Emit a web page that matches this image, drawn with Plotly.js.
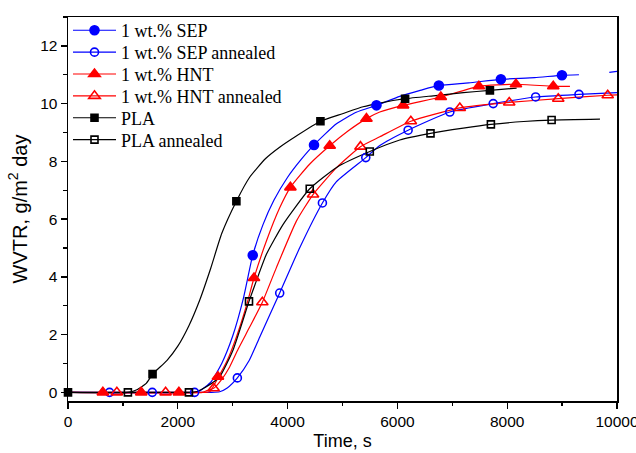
<!DOCTYPE html>
<html>
<head>
<meta charset="utf-8">
<script src="https://cdn.plot.ly/plotly-3.0.1.min.js"></script>
<style>html,body{margin:0;padding:0;background:#fff;}#chart{width:636px;height:453px;}</style>
</head>
<body>
<div id="chart"></div>
<script>
// ---- Data (time in s, WVTR in g/m2 day) ----
const seriesNames = ["1 wt.% SEP", "1 wt.% SEP annealed", "1 wt.% HNT", "1 wt.% HNT annealed", "PLA", "PLA annealed"];

// curve samples
const sepX = [0, 2300, 2397, 2600, 2800, 3000, 3200, 3365, 3550, 3750, 4000, 4240, 4481, 4890, 5250, 5619, 6043, 6400, 6755, 7300, 7885, 8500, 8997, 9307, null, 9860, 10000];
const sepY = [0, 0, 0.05, 0.35, 1.0, 1.95, 3.3, 4.75, 5.8, 6.65, 7.45, 8.05, 8.57, 9.3, 9.7, 9.94, 10.25, 10.45, 10.63, 10.72, 10.84, 10.9, 10.98, 11.0, null, 11.08, 11.12];

const sepAnX = [0, 2600, 2762, 2900, 3085, 3300, 3491, 3856, 4221, 4634, 4890, 5424, 5679, 6195, 6955, 7745, 8518, 9307, 10000];
const sepAnY = [0, 0, 0.02, 0.15, 0.5, 1.1, 1.91, 3.44, 5.01, 6.56, 7.3, 8.13, 8.55, 9.08, 9.71, 10.0, 10.23, 10.32, 10.38];

const hntX = [0, 2400, 2580, 2731, 2900, 3066, 3250, 3388, 3614, 3856, 4051, 4400, 4767, 5100, 5436, 5679, 6104, 6791, 7484, 8159, 8839, 9143];
const hntY = [0, 0, 0.02, 0.5, 1.1, 1.91, 3.0, 3.96, 5.24, 6.39, 7.1, 7.9, 8.54, 9.05, 9.48, 9.71, 9.94, 10.23, 10.6, 10.67, 10.6, 10.6];

const hntAnX = [0, 2450, 2519, 2653, 2800, 2944, 3100, 3309, 3540, 3796, 4160, 4463, 4900, 5327, 5679, 6245, 7137, 8037, 8930, 9831, 10000];
const hntAnY = [0, 0, 0.05, 0.14, 0.45, 0.88, 1.5, 2.26, 3.12, 4.32, 5.93, 6.85, 7.8, 8.51, 8.85, 9.39, 9.85, 10.04, 10.17, 10.29, 10.3];

const plaX = [0, 1090, 1243, 1425, 1540, 1800, 2000, 2200, 2400, 2600, 2800, 3067, 3309, 3600, 3861, 4160, 4598, 5000, 5375, 5679, 6140, 6700, 7200, 7685, 8172];
const plaY = [0, 0, 0.08, 0.31, 0.63, 1.1, 1.6, 2.3, 3.2, 4.3, 5.5, 6.62, 7.45, 8.1, 8.5, 8.88, 9.39, 9.65, 9.89, 10.02, 10.17, 10.28, 10.38, 10.46, 10.54];

const plaAnX = [0, 1091, 2203, 2350, 2520, 2762, 3005, 3297, 3431, 3614, 3916, 4403, 4900, 5497, 6043, 6603, 7200, 7703, 8300, 8809, 9690];
const plaAnY = [0, 0, 0, 0.03, 0.19, 0.54, 1.46, 3.15, 3.86, 4.78, 5.81, 7.05, 7.8, 8.34, 8.74, 8.97, 9.15, 9.28, 9.38, 9.43, 9.46];

// marker samples
const sepMX = [3365, 4481, 5619, 6755, 7885, 8997];
const sepMY = [4.75, 8.57, 9.94, 10.63, 10.84, 10.98];
const sepAnMX = [757, 1535, 2306, 3085, 3856, 4634, 5424, 6195, 6955, 7745, 8518, 9307];
const sepAnMY = [0, 0, 0, 0.5, 3.44, 6.56, 8.13, 9.08, 9.71, 10.0, 10.23, 10.32];
const hntMX = [635, 1334, 2020, 2731, 3388, 4051, 4767, 5436, 6104, 6791, 7484, 8159, 8839];
const hntMY = [0, 0, 0, 0.54, 3.96, 7.1, 8.54, 9.48, 9.94, 10.23, 10.6, 10.67, 10.6];
const hntAnMX = [890, 1778, 2653, 3540, 4463, 5327, 6245, 7137, 8037, 8930, 9831];
const hntAnMY = [0, 0, 0.14, 3.12, 6.85, 8.51, 9.39, 9.85, 10.04, 10.17, 10.29];
const plaMX = [0, 1540, 3067, 4598, 6140, 7685];
const plaMY = [0, 0.63, 6.62, 9.39, 10.17, 10.46];
const plaAnMX = [1091, 2203, 3297, 4403, 5497, 6603, 7703, 8809];
const plaAnMY = [0, 0, 3.15, 7.05, 8.34, 8.97, 9.28, 9.43];

const xTicks = [0, 2000, 4000, 6000, 8000, 10000];
const yTicks = [0, 2, 4, 6, 8, 10, 12];

// ---- styling ----
const styles = [
  {color: "#0000ff", symbol: "circle", size: 9, lx: sepX, ly: sepY, mx: sepMX, my: sepMY},
  {color: "#0000ff", symbol: "circle-open", size: 8, lx: sepAnX, ly: sepAnY, mx: sepAnMX, my: sepAnMY},
  {color: "#ff0000", symbol: "triangle-up", size: 10, lx: hntX, ly: hntY, mx: hntMX, my: hntMY},
  {color: "#ff0000", symbol: "triangle-up-open", size: 10, lx: hntAnX, ly: hntAnY, mx: hntAnMX, my: hntAnMY},
  {color: "#000000", symbol: "square", size: 7, lx: plaX, ly: plaY, mx: plaMX, my: plaMY},
  {color: "#000000", symbol: "square-open", size: 7, lx: plaAnX, ly: plaAnY, mx: plaAnMX, my: plaAnMY}
];

const traces = [];
styles.forEach((s) => {
  traces.push({
    x: s.lx, y: s.ly, mode: "lines", type: "scatter", showlegend: false,
    line: {color: s.color, width: 1.2, shape: "spline", smoothing: 0.5},
    connectgaps: false, hoverinfo: "skip", cliponaxis: true
  });
});
styles.forEach((s) => {
  traces.push({
    x: s.mx, y: s.my, mode: "markers", type: "scatter", showlegend: false,
    marker: {color: s.color, symbol: s.symbol, size: s.size, line: {color: s.color, width: 1.6}},
    cliponaxis: false
  });
});
const legendIds = ["legend", "legend2", "legend3", "legend4", "legend5", "legend6"];
styles.forEach((s, i) => {
  traces.push({
    x: [null], y: [null], mode: "lines+markers", type: "scatter", name: seriesNames[i],
    legend: legendIds[i],
    line: {color: s.color, width: 1.2},
    marker: {color: s.color, symbol: s.symbol, size: s.size, line: {color: s.color, width: 1.6}}
  });
});

const axisCommon = {
  showline: true, linecolor: "#000", linewidth: 1.5, mirror: true,
  ticks: "outside", ticklen: 6, tickwidth: 1.3, tickcolor: "#000",
  showgrid: false, zeroline: false, ticklabeloverflow: "allow",
  tickfont: {family: "Liberation Sans, Arial, sans-serif", size: 15.5, color: "#000"}
};

const layout = {
  width: 636, height: 453,
  margin: {l: 68, r: 19, t: 13, b: 52},
  paper_bgcolor: "#fff", plot_bgcolor: "#fff",
  showlegend: true,
  xaxis: Object.assign({}, axisCommon, {
    range: [0, 10000], tickvals: xTicks, ticktext: xTicks.map(String),
    minor: {dtick: 1000, ticks: "outside", ticklen: 3.5, tickwidth: 1.2, tickcolor: "#000"},
    title: {text: "Time, s", font: {family: "Liberation Sans, Arial, sans-serif", size: 18, color: "#000"}, standoff: 5}
  }),
  yaxis: Object.assign({}, axisCommon, {
    range: [-0.3, 13], tickvals: yTicks, ticktext: yTicks.map(String),
    minor: {dtick: 1, ticks: "outside", ticklen: 3.5, tickwidth: 1.2, tickcolor: "#000"},
    title: {text: "WVTR, g/m<sup>2</sup> day", font: {family: "Liberation Sans, Arial, sans-serif", size: 20, color: "#000"}, standoff: 7}
  })
};

// one legend box per entry so the rows keep the reference's tight spacing
const plotTop = 13, plotH = 388;
const rowTop = 26.7, rowGap = 22.1;
legendIds.forEach((id, i) => {
  const cy = rowTop + rowGap * i;
  layout[id] = {
    x: 0.0, y: 1 - (cy - plotTop) / plotH, xanchor: "left", yanchor: "middle",
    bgcolor: "rgba(0,0,0,0)", borderwidth: 0, itemwidth: 43,
    font: {family: "Liberation Serif, Times New Roman, serif", size: 18, color: "#000"}
  };
});

Plotly.newPlot("chart", traces, layout, {staticPlot: true, displayModeBar: false});
</script>
</body>
</html>
